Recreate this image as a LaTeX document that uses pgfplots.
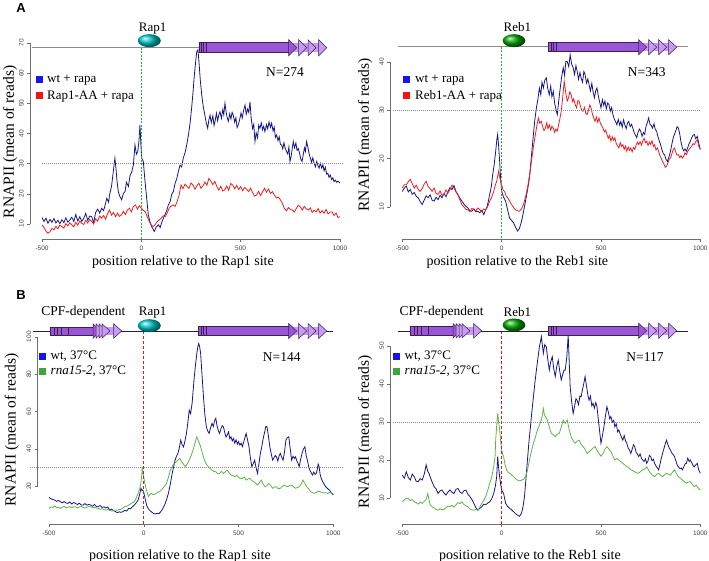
\documentclass[border=0pt]{standalone}
\usepackage{pgfplots}
\pgfplotsset{compat=1.18}
\usepackage{fontspec}
\setmainfont{Liberation Serif}
\newfontfamily\tickfont{Liberation Sans}
\definecolor{navyl}{RGB}{22,22,140}
\definecolor{redl}{RGB}{240,30,30}
\definecolor{greenl}{RGB}{95,180,75}
\definecolor{sqblue}{RGB}{20,20,240}
\definecolor{sqred}{RGB}{240,20,20}
\definecolor{sqgreen}{RGB}{60,165,60}
\definecolor{axgray}{RGB}{110,110,110}
\definecolor{gpurple}{RGB}{155,85,215}
\definecolor{glight}{RGB}{200,155,240}
\definecolor{gdark}{RGB}{60,30,80}
\definecolor{vgreen}{RGB}{40,175,60}
\definecolor{vred}{RGB}{205,35,35}
\definecolor{gline}{RGB}{140,140,140}
\definecolor{hdot}{RGB}{140,140,140}
\pgfplotsset{rstyle/.style={scale only axis, xmin=-560, xmax=1060,
  axis x line*=bottom, axis y line*=left, axis line style={draw=none,-},
  xtick={-500,0,500,1000}, tick align=outside, major tick length=3pt,
  tick style={axgray, line width=0.4pt},
  ticklabel style={font=\tickfont\fontsize{6.5}{7}\selectfont, text=black!75},
  yticklabel style={rotate=90, anchor=south},
  /pgf/number format/assume math mode=true, /pgf/number format/1000 sep={},
  clip=false, every axis plot/.append style={line width=0.8pt, mark=none}},
  axl/.style={color=axgray, line width=0.5pt, forget plot}}
% gene: start, bodyend, yc, half height, first tip, light tips, last tip
\newcommand{\gene}[7]{%
  \fill[glight] (#2,#3-#4+0.5) rectangle (#7-6,#3+#4-0.5);
  \filldraw[fill=gpurple, draw=gdark, line width=0.5pt] (#1,#3-#4) rectangle (#2,#3+#4);
  \filldraw[fill=gpurple, draw=gdark, line width=0.5pt] (#5-8,#3-#4-3) -- (#5,#3) -- (#5-8,#3+#4+3) -- cycle;
  \foreach \t in {#6} {\filldraw[fill=glight, draw=gdark, line width=0.5pt] (\t-8,#3-#4-3) -- (\t,#3) -- (\t-8,#3+#4+3) -- cycle;}
}
% vertical dashes as fills: x, y0, y1, colour, on, period, width
\newcommand{\vdashline}[7]{\pgfmathsetmacro{\ystepv}{#2+#6}\foreach \yy in {#2,\ystepv,...,#3} {\fill[#4] ({#1-#7/2},\yy) rectangle ({#1+#7/2},{min(\yy+#5,#3)});}}
% horizontal dots as fills: y, x0, x1
\newcommand{\hdotline}[3]{\pgfmathsetmacro{\xstepv}{#2+2}\foreach \xx in {#2,\xstepv,...,#3} {\fill[hdot] (\xx,#1-0.3) rectangle (\xx+0.9,#1+0.3);}}
\begin{document}
\begin{tikzpicture}
\useasboundingbox (0pt,0pt) rectangle (709pt,-561pt);
% ---------------- A left
\begin{axis}[rstyle, at={(30.1pt,-239pt)}, anchor=south west, width=321.8pt, height=199.1pt, ymin=5, ymax=71, ytick={10,20,...,70}]
\addplot[axl] coordinates {(-500,5)(1000,5)};
\addplot[axl] coordinates {(-560,10)(-560,70)};
\addplot[navyl] coordinates {(-500,12.1)(-490,10.8)(-480,11.9)(-470,10.2)(-460,11.5)(-450,10.5)(-440,11.8)(-430,10.3)(-420,11.2)(-410,10.1)(-400,11.4)(-390,10.4)(-380,12.0)(-370,10.6)(-360,11.3)(-350,12.2)(-340,10.8)(-330,13.1)(-320,11.0)(-310,12.4)(-300,10.9)(-290,11.8)(-280,13.5)(-270,11.2)(-260,12.6)(-250,12.4)(-240,10.3)(-230,13.8)(-220,14.9)(-210,13.6)(-200,15.2)(-190,14.4)(-180,16.8)(-174,18.5)(-165,17.2)(-160,19.6)(-150,22.5)(-140,28.0)(-133,31.8)(-128,28.5)(-122,24.0)(-116,20.7)(-108,19.1)(-99,18.0)(-90,20.2)(-82,20.7)(-75,23.8)(-65,22.4)(-57,26.0)(-48,27.3)(-40,29.6)(-32,36.2)(-25,33.1)(-18,34.0)(-12,37.5)(-7,42.8)(-2,36.0)(2,31.8)(10,30.7)(18,24.5)(27,18.5)(35,13.0)(43,10.8)(52,9.1)(58,8.4)(65,7.5)(75,9.0)(86,9.7)(95,8.8)(103,10.6)(111,11.9)(120,13.2)(128,14.5)(136,16.3)(145,17.4)(153,19.8)(161,20.7)(170,23.5)(178,24.9)(186,27.3)(195,29.5)(203,28.9)(211,31.8)(220,33.6)(228,36.1)(237,39.5)(245,43.2)(253,48.3)(260,53.5)(267,59.4)(273,63.5)(279,67.1)(285,67.7)(290,63.8)(297,57.5)(304,52.8)(312,48.7)(320,46.0)(327,43.4)(334,41.7)(340,44.5)(346,46.0)(352,43.6)(360,45.8)(366,42.6)(371,44.0)(378,46.7)(384,44.2)(390,46.1)(396,47.2)(403,45.0)(410,47.9)(415,46.2)(421,50.0)(427,47.0)(432,45.3)(438,44.0)(445,46.5)(451,44.8)(457,47.0)(463,46.0)(470,43.7)(476,45.2)(482,41.9)(488,42.8)(495,44.6)(502,46.8)(508,45.1)(515,47.6)(522,49.4)(528,46.3)(535,48.1)(541,46.9)(547,50.5)(553,45.0)(560,41.6)(566,43.0)(572,37.3)(578,40.2)(585,38.6)(591,42.7)(597,41.7)(604,43.5)(610,41.2)(616,42.4)(622,40.6)(630,42.9)(636,41.5)(643,43.8)(650,42.0)(656,43.4)(663,40.8)(669,42.1)(675,38.7)(681,39.5)(688,37.6)(694,38.9)(700,36.4)(706,36.2)(712,34.8)(718,36.9)(724,35.1)(731,34.0)(737,33.2)(743,35.5)(748,30.7)(754,32.3)(759,34.8)(765,37.3)(771,35.2)(778,36.8)(784,34.4)(790,35.0)(796,33.6)(803,31.4)(809,30.7)(815,32.9)(821,35.2)(826,34.0)(832,37.3)(838,35.6)(845,33.1)(851,31.8)(857,30.4)(863,31.9)(870,30.2)(876,28.9)(883,30.7)(889,29.3)(895,28.5)(901,30.1)(908,28.5)(914,29.6)(920,27.6)(926,28.8)(933,26.5)(939,26.8)(945,25.4)(951,26.2)(958,24.7)(964,25.3)(970,24.0)(977,24.5)(983,23.8)(990,24.2)(1000,23.5)};
\addplot[redl] coordinates {(-500,9.7)(-490,8.8)(-480,7.6)(-470,6.9)(-460,7.4)(-450,8.5)(-440,8.0)(-430,9.2)(-420,8.4)(-410,9.6)(-400,9.1)(-390,8.6)(-380,10.1)(-370,9.3)(-360,10.4)(-350,9.7)(-340,9.0)(-330,10.5)(-320,9.6)(-310,11.0)(-300,10.2)(-290,9.8)(-280,11.2)(-270,10.3)(-260,11.5)(-250,10.8)(-240,10.0)(-230,11.7)(-220,10.9)(-210,12.6)(-200,11.9)(-190,12.8)(-180,11.6)(-170,13.4)(-160,14.6)(-150,12.9)(-140,13.8)(-130,12.4)(-120,13.6)(-110,12.5)(-100,13.0)(-90,14.2)(-80,13.1)(-70,14.6)(-60,15.2)(-50,14.0)(-40,15.8)(-30,16.3)(-20,14.9)(-10,16.0)(0,15.2)(10,14.5)(20,14.0)(30,12.3)(40,10.8)(50,9.6)(60,9.1)(70,9.8)(80,10.8)(90,11.3)(100,11.9)(110,12.7)(120,12.4)(130,13.6)(140,15.2)(150,15.9)(160,16.3)(170,15.8)(180,17.4)(190,19.5)(200,22.9)(210,21.7)(220,23.2)(230,22.4)(240,21.8)(250,23.6)(260,22.9)(270,21.5)(280,22.7)(290,23.5)(300,21.8)(310,22.6)(320,23.9)(330,22.8)(340,25.1)(350,24.2)(360,23.0)(370,24.1)(380,22.4)(390,21.2)(400,22.5)(410,20.9)(420,21.3)(430,22.6)(440,21.1)(450,23.4)(460,22.9)(470,21.6)(480,22.8)(490,21.4)(500,22.4)(510,21.0)(520,22.1)(530,21.5)(540,20.7)(550,21.9)(560,20.4)(570,19.2)(580,19.6)(590,20.8)(600,19.4)(610,20.6)(620,21.8)(630,20.5)(640,21.6)(650,20.1)(660,20.7)(670,19.5)(680,18.6)(690,18.9)(700,18.0)(710,16.8)(720,15.2)(730,14.3)(740,15.4)(750,14.8)(760,14.6)(770,13.9)(780,15.1)(790,16.2)(800,15.7)(810,14.6)(820,15.8)(830,15.0)(840,14.6)(850,15.3)(860,13.8)(870,14.5)(880,14.0)(890,15.1)(900,13.6)(910,14.4)(920,13.5)(930,14.8)(940,13.3)(950,13.9)(960,14.0)(970,12.8)(980,13.6)(990,12.1)(1000,12.4)};
\end{axis}
% ---------------- A right
\begin{axis}[rstyle, at={(390.4pt,-239.3pt)}, anchor=south west, width=321.8pt, height=194.3pt, ymin=3.3, ymax=43.5, ytick={10,20,30,40}]
\addplot[axl] coordinates {(-500,3.3)(1000,3.3)};
\addplot[axl] coordinates {(-560,10)(-560,40)};
\addplot[navyl] coordinates {(-500,13.2)(-490,13.9)(-480,14.3)(-470,13.1)(-460,13.6)(-450,12.6)(-440,13.0)(-430,12.2)(-420,11.9)(-410,11.1)(-400,10.5)(-390,11.4)(-380,12.3)(-370,11.9)(-360,12.5)(-350,11.4)(-340,11.2)(-330,12.0)(-320,11.5)(-310,12.4)(-300,11.9)(-290,12.8)(-280,12.1)(-270,13.2)(-260,14.0)(-250,13.6)(-240,14.4)(-230,13.2)(-220,12.5)(-210,11.8)(-200,11.2)(-190,10.6)(-180,10.1)(-170,9.8)(-160,9.2)(-150,9.1)(-140,9.6)(-130,9.0)(-120,9.1)(-110,8.8)(-100,9.3)(-90,8.4)(-80,9.5)(-75,9.8)(-68,11.0)(-60,12.6)(-52,14.2)(-45,16.7)(-38,18.6)(-30,21.5)(-24,24.0)(-20,25.0)(-15,22.5)(-10,19.4)(-5,15.8)(0,13.2)(10,12.0)(20,11.2)(30,9.4)(40,7.7)(50,7.2)(60,6.7)(70,5.8)(80,5.0)(90,5.6)(100,7.0)(110,9.0)(120,11.2)(130,13.4)(140,16.0)(150,20.5)(160,25.0)(167,28.0)(175,30.5)(183,32.4)(190,34.6)(197,33.2)(203,35.8)(210,34.6)(217,36.2)(225,36.7)(232,34.5)(240,33.2)(247,35.0)(253,32.8)(260,33.9)(267,31.4)(273,30.2)(280,29.1)(287,31.8)(295,34.6)(302,36.9)(310,38.8)(317,37.2)(323,40.1)(330,40.1)(338,39.0)(345,41.5)(352,39.6)(360,38.8)(367,37.4)(374,39.2)(380,38.1)(387,36.4)(394,37.8)(400,36.7)(407,35.8)(414,38.0)(420,37.4)(427,35.6)(434,36.5)(440,35.3)(447,34.0)(454,35.6)(460,33.9)(467,32.6)(474,34.1)(480,34.6)(487,32.9)(494,31.6)(500,30.5)(507,32.2)(514,31.0)(520,31.9)(527,30.3)(534,31.5)(540,31.2)(547,29.8)(554,30.6)(560,29.1)(567,28.2)(574,27.6)(580,27.0)(587,28.1)(594,26.9)(600,27.7)(607,26.5)(614,28.0)(620,27.0)(627,26.2)(634,27.4)(640,27.7)(647,26.6)(654,27.1)(660,26.3)(667,25.4)(674,24.8)(680,24.3)(687,25.5)(694,26.1)(700,25.7)(707,24.6)(714,25.4)(720,25.0)(727,26.7)(734,27.5)(740,28.4)(747,27.1)(754,26.8)(760,26.3)(767,27.2)(774,26.0)(780,25.7)(787,24.5)(794,23.6)(800,22.9)(807,21.8)(814,21.0)(820,20.8)(827,19.9)(835,19.4)(842,20.3)(850,21.5)(857,23.0)(863,24.2)(870,25.0)(877,25.8)(883,26.6)(890,26.3)(897,25.0)(903,23.4)(910,22.2)(917,21.6)(923,22.0)(930,21.5)(937,22.3)(943,23.0)(950,23.6)(957,24.3)(963,24.8)(970,25.0)(977,24.1)(985,24.6)(992,23.2)(1000,21.9)};
\addplot[redl] coordinates {(-500,13.9)(-490,14.6)(-480,14.6)(-470,15.2)(-460,15.7)(-450,14.8)(-440,13.9)(-430,14.5)(-420,13.6)(-410,13.2)(-400,13.8)(-390,14.7)(-380,15.3)(-370,14.2)(-360,13.8)(-350,13.2)(-340,13.9)(-330,12.8)(-320,12.6)(-310,13.3)(-300,12.4)(-290,12.6)(-280,13.5)(-270,12.9)(-260,13.6)(-250,14.5)(-240,13.9)(-230,13.1)(-220,12.6)(-210,11.4)(-200,10.5)(-190,10.0)(-180,9.5)(-170,9.4)(-160,9.0)(-150,9.7)(-140,9.4)(-130,9.2)(-120,9.8)(-110,9.4)(-100,9.0)(-90,9.6)(-80,9.4)(-70,10.1)(-60,11.2)(-50,12.0)(-40,13.2)(-32,14.5)(-25,15.3)(-15,17.4)(-8,15.8)(0,14.6)(7,13.5)(15,13.2)(22,12.3)(30,11.9)(40,11.2)(50,10.5)(60,9.9)(70,9.4)(80,9.2)(90,9.1)(100,9.6)(110,10.5)(120,12.0)(130,13.9)(140,16.4)(150,19.4)(160,22.5)(170,25.0)(178,27.0)(185,28.4)(192,27.3)(200,27.7)(207,26.5)(213,25.8)(220,26.3)(227,27.4)(233,26.2)(240,27.0)(247,25.9)(253,26.7)(260,26.3)(267,25.4)(273,26.1)(280,25.7)(287,27.0)(293,28.2)(300,29.8)(307,32.5)(315,36.0)(322,33.8)(330,31.9)(337,32.6)(343,33.8)(350,33.2)(357,31.8)(363,32.4)(370,31.2)(377,30.5)(384,32.0)(390,31.9)(397,30.8)(404,29.9)(410,29.8)(417,30.6)(424,29.3)(430,29.1)(437,30.0)(444,31.1)(450,30.5)(457,29.2)(464,28.4)(470,27.7)(477,28.6)(484,27.5)(490,28.4)(497,27.3)(504,26.8)(510,26.3)(517,25.5)(524,25.9)(530,25.0)(537,24.2)(544,24.8)(550,23.6)(557,24.5)(564,23.8)(570,24.3)(577,23.1)(584,22.6)(590,22.2)(597,23.3)(604,22.5)(610,22.9)(617,21.9)(624,22.6)(630,21.5)(637,22.4)(644,21.7)(650,22.2)(657,21.4)(664,22.3)(670,21.9)(677,22.8)(684,23.4)(690,22.9)(697,23.5)(704,22.8)(710,23.6)(717,24.2)(724,23.3)(730,23.6)(737,22.7)(744,23.4)(750,22.9)(757,23.7)(764,22.5)(770,22.9)(777,21.8)(784,22.2)(790,21.5)(797,20.6)(804,20.0)(810,19.4)(817,18.9)(823,18.2)(830,18.4)(837,19.1)(843,19.8)(850,20.1)(857,21.0)(863,21.8)(870,22.2)(877,21.3)(883,20.7)(890,20.8)(897,20.2)(903,20.6)(910,20.1)(917,20.5)(923,21.2)(930,20.8)(937,21.5)(943,21.9)(950,22.2)(957,22.6)(963,23.1)(970,22.9)(977,23.5)(985,23.9)(992,22.6)(1000,21.9)};
\end{axis}
% ---------------- B left
\begin{axis}[rstyle, at={(37.6pt,-524.3pt)}, anchor=south west, width=307.1pt, height=189.4pt, ymin=-0.5, ymax=101, ytick={20,40,60,80,100}]
\addplot[axl] coordinates {(-500,-0.5)(1000,-0.5)};
\addplot[axl] coordinates {(-560,20)(-560,100)};
\addplot[navyl] coordinates {(-500,13.9)(-490,13.2)(-480,12.8)(-470,12.5)(-460,11.8)(-450,12.3)(-440,11.6)(-430,11.0)(-420,11.7)(-410,10.9)(-400,10.7)(-390,11.5)(-380,10.4)(-370,11.2)(-360,10.7)(-350,10.1)(-340,10.8)(-330,9.9)(-320,9.8)(-310,10.6)(-300,9.7)(-290,10.2)(-280,9.8)(-270,9.2)(-260,10.1)(-250,9.0)(-240,8.9)(-230,9.6)(-220,8.5)(-210,8.9)(-200,8.2)(-190,8.8)(-180,7.1)(-170,7.6)(-160,6.8)(-150,6.4)(-140,5.7)(-130,6.2)(-120,5.9)(-110,6.3)(-100,7.0)(-90,6.6)(-80,8.0)(-70,7.8)(-60,8.9)(-50,9.8)(-40,11.0)(-30,12.5)(-22,15.2)(-15,18.8)(-10,17.6)(-5,17.9)(0,16.5)(5,14.3)(10,11.9)(15,9.8)(22,8.2)(30,7.1)(40,6.2)(50,5.4)(60,5.0)(70,5.4)(80,5.2)(90,6.3)(100,7.8)(110,9.8)(120,12.6)(130,16.1)(140,21.0)(150,26.8)(158,30.5)(165,33.9)(172,35.8)(180,37.5)(187,40.2)(195,44.6)(202,42.3)(210,41.0)(217,44.0)(225,48.2)(232,53.5)(240,60.7)(247,58.8)(255,64.3)(260,70.5)(265,76.8)(272,84.0)(280,91.1)(286,95.0)(290,96.4)(295,94.5)(300,91.1)(307,80.2)(315,67.9)(322,58.5)(330,51.8)(337,49.6)(345,48.2)(352,51.0)(360,53.6)(367,51.9)(373,54.8)(380,56.3)(387,52.0)(394,49.5)(400,48.2)(407,50.6)(414,52.4)(420,51.8)(427,48.8)(434,46.2)(440,47.3)(447,49.0)(454,45.4)(460,46.4)(467,44.2)(474,45.5)(480,42.9)(487,44.8)(494,42.5)(500,43.8)(507,41.9)(514,43.0)(520,41.1)(527,43.5)(534,46.0)(540,48.2)(547,45.0)(555,41.1)(562,35.5)(570,30.4)(577,31.8)(585,33.9)(592,30.1)(600,26.8)(607,31.5)(615,37.5)(622,40.8)(630,45.5)(637,48.6)(644,52.0)(650,51.8)(657,47.2)(665,41.1)(672,37.4)(680,33.9)(687,35.2)(694,36.4)(700,35.7)(707,33.4)(714,36.2)(720,37.5)(727,35.6)(735,33.9)(742,38.0)(750,44.6)(757,45.9)(765,46.4)(772,40.5)(780,33.9)(787,36.0)(794,34.8)(800,35.7)(807,33.6)(814,32.2)(820,30.4)(827,34.1)(835,37.5)(842,39.8)(850,41.1)(857,36.2)(864,33.5)(870,30.4)(877,28.3)(884,27.0)(890,25.9)(897,27.5)(904,26.2)(910,26.8)(915,28.9)(920,31.8)(925,30.4)(930,26.5)(935,24.5)(940,23.2)(947,21.8)(954,20.6)(960,19.6)(967,18.9)(974,18.2)(980,17.9)(987,16.6)(994,16.0)(1000,15.2)};
\addplot[greenl] coordinates {(-500,8.0)(-490,8.8)(-480,8.5)(-470,9.3)(-460,8.4)(-450,8.7)(-440,8.0)(-430,8.6)(-420,9.2)(-410,8.3)(-400,8.6)(-390,9.0)(-380,8.4)(-370,8.9)(-360,8.9)(-350,8.3)(-340,8.8)(-330,9.1)(-320,8.6)(-310,8.2)(-300,8.7)(-290,9.0)(-280,8.9)(-270,8.4)(-260,8.6)(-250,8.2)(-240,8.0)(-230,7.5)(-220,7.9)(-210,7.3)(-200,7.1)(-190,7.5)(-180,7.0)(-170,6.6)(-160,6.8)(-150,7.2)(-140,7.0)(-130,7.4)(-120,7.5)(-110,8.3)(-100,8.9)(-90,9.2)(-80,9.8)(-70,10.4)(-60,11.0)(-50,11.6)(-40,13.5)(-30,16.1)(-22,18.5)(-15,21.4)(-10,26.5)(-8,30.4)(-4,27.0)(0,25.0)(5,21.8)(10,19.6)(17,16.8)(25,14.3)(32,15.5)(40,16.1)(50,15.4)(60,15.7)(70,16.4)(80,17.0)(90,17.5)(100,18.8)(110,19.9)(120,21.4)(130,24.6)(140,28.6)(150,30.5)(160,32.1)(170,32.8)(180,33.9)(190,34.8)(200,33.0)(210,31.6)(220,30.4)(230,32.0)(240,33.9)(250,36.3)(260,39.3)(270,43.0)(280,46.4)(290,43.8)(300,41.1)(310,37.2)(320,33.9)(330,31.8)(340,30.4)(350,29.4)(360,28.6)(370,27.8)(380,27.7)(390,26.5)(400,26.8)(410,27.9)(420,26.8)(430,27.6)(440,28.6)(450,27.2)(460,25.9)(470,25.6)(480,25.0)(490,25.8)(500,24.6)(510,23.9)(520,24.1)(530,24.8)(540,23.2)(550,23.8)(560,24.1)(570,23.0)(580,22.3)(590,21.6)(600,20.5)(610,21.9)(620,23.2)(630,21.0)(640,19.6)(650,20.3)(660,21.4)(670,20.2)(680,18.8)(690,19.5)(700,19.6)(710,18.5)(720,18.8)(730,19.7)(740,20.5)(750,20.0)(760,19.6)(770,20.4)(780,20.5)(790,19.6)(800,18.8)(810,19.2)(820,19.6)(830,21.0)(840,23.2)(850,21.3)(860,19.6)(870,18.4)(880,17.0)(890,16.5)(900,16.1)(910,16.6)(920,17.2)(930,17.0)(940,16.6)(950,16.3)(960,16.4)(970,16.0)(980,16.6)(990,16.2)(1000,16.1)};
\end{axis}
% ---------------- B right
\begin{axis}[rstyle, at={(390.4pt,-524.3pt)}, anchor=south west, width=321.8pt, height=197.6pt, ymin=3.1, ymax=55, ytick={10,20,...,50}]
\addplot[axl] coordinates {(-500,3.1)(1000,3.1)};
\addplot[axl] coordinates {(-560,10)(-560,50)};
\addplot[navyl] coordinates {(-500,16.0)(-490,15.2)(-480,16.9)(-470,15.4)(-460,14.7)(-450,16.3)(-440,15.6)(-430,14.4)(-420,14.3)(-410,15.1)(-400,14.7)(-390,16.2)(-380,18.7)(-372,17.0)(-365,16.4)(-360,15.6)(-350,14.2)(-340,13.0)(-330,12.4)(-320,11.2)(-310,11.9)(-300,12.1)(-290,11.3)(-280,10.8)(-270,11.6)(-260,12.1)(-250,11.5)(-240,11.2)(-230,12.3)(-220,12.5)(-210,11.6)(-200,11.2)(-190,11.9)(-180,12.1)(-170,11.0)(-160,10.4)(-150,9.6)(-140,8.6)(-130,7.5)(-120,6.8)(-110,7.3)(-100,7.7)(-90,8.4)(-80,8.2)(-70,8.7)(-60,9.0)(-50,9.8)(-40,11.2)(-32,13.0)(-25,15.6)(-20,20.9)(-15,17.8)(-10,15.6)(-5,13.6)(0,12.1)(10,11.2)(20,8.6)(30,7.8)(40,7.3)(50,6.9)(60,6.4)(70,5.9)(80,5.5)(90,5.2)(100,6.0)(108,7.8)(115,10.4)(122,14.8)(130,20.0)(137,24.5)(145,28.7)(152,32.6)(160,36.6)(167,40.1)(175,43.6)(182,46.5)(190,49.7)(195,51.0)(200,52.4)(205,50.1)(210,48.0)(217,50.3)(225,49.7)(232,46.5)(240,43.6)(247,45.8)(255,47.1)(262,44.0)(270,41.9)(277,44.5)(285,46.2)(292,43.5)(300,41.0)(307,42.4)(314,43.6)(320,43.6)(328,47.0)(335,52.8)(340,46.0)(345,39.2)(352,35.5)(360,32.2)(367,34.0)(374,36.1)(380,35.7)(387,34.5)(394,36.8)(400,36.6)(407,38.5)(414,40.2)(420,41.9)(427,39.5)(434,37.0)(440,35.7)(447,36.8)(454,34.2)(460,34.9)(467,33.6)(474,35.1)(480,34.0)(487,30.5)(494,27.2)(500,24.4)(507,26.3)(515,28.7)(522,31.4)(530,34.0)(537,32.6)(544,30.8)(550,31.4)(557,29.9)(564,30.4)(570,28.7)(577,29.5)(584,27.4)(590,27.9)(597,26.8)(604,25.9)(610,25.2)(617,26.4)(624,24.9)(630,24.4)(637,23.1)(644,22.6)(650,21.7)(657,22.8)(664,24.0)(670,23.5)(677,22.0)(684,21.5)(690,20.9)(697,21.6)(704,20.4)(710,20.0)(717,19.6)(724,20.3)(730,19.1)(737,19.8)(744,21.2)(750,20.9)(757,19.8)(764,20.2)(770,19.1)(777,18.4)(784,17.9)(790,17.4)(797,18.8)(804,20.5)(810,21.7)(817,23.0)(824,24.3)(830,25.2)(837,24.0)(844,23.1)(850,22.6)(857,21.8)(864,21.4)(870,20.9)(877,19.8)(884,18.6)(890,18.2)(897,17.7)(904,17.9)(910,17.4)(917,18.2)(924,19.0)(930,19.1)(937,20.5)(944,19.6)(950,20.0)(957,19.3)(964,18.5)(970,18.2)(977,18.7)(985,19.1)(992,17.4)(1000,16.5)};
\addplot[greenl] coordinates {(-500,9.0)(-490,9.5)(-480,9.9)(-470,9.9)(-460,9.3)(-450,9.6)(-440,9.0)(-430,8.8)(-420,8.4)(-410,9.0)(-400,8.6)(-390,9.1)(-380,9.6)(-372,11.2)(-365,9.4)(-360,8.3)(-350,7.7)(-340,7.4)(-330,7.0)(-320,6.8)(-310,7.2)(-300,6.9)(-290,7.0)(-280,7.5)(-270,7.9)(-260,7.7)(-250,8.1)(-240,7.6)(-230,8.2)(-220,8.8)(-210,8.5)(-200,9.0)(-190,8.3)(-180,8.0)(-170,7.7)(-160,7.1)(-150,6.9)(-140,6.8)(-130,7.0)(-120,6.8)(-110,7.6)(-100,8.6)(-90,9.4)(-80,10.4)(-70,12.0)(-60,13.9)(-50,15.5)(-40,18.2)(-33,21.0)(-30,25.2)(-25,29.0)(-20,32.2)(-15,30.0)(-10,27.9)(-5,24.9)(0,22.6)(5,21.5)(10,20.9)(17,18.7)(25,17.4)(32,16.8)(40,16.5)(50,16.1)(60,15.6)(70,15.1)(80,14.7)(90,14.5)(100,14.7)(110,14.9)(120,15.6)(130,17.3)(140,20.0)(150,22.3)(160,24.4)(170,26.0)(180,27.9)(190,29.1)(200,30.5)(205,31.8)(210,33.5)(215,32.0)(222,31.2)(230,30.5)(240,28.6)(250,27.0)(260,26.6)(270,26.1)(280,26.8)(290,27.0)(300,28.6)(310,30.5)(320,29.6)(330,30.5)(340,28.0)(350,26.1)(360,25.0)(370,24.4)(380,24.9)(390,25.2)(400,24.1)(410,23.5)(420,22.8)(430,21.7)(440,22.1)(450,22.6)(460,23.1)(470,23.5)(480,22.6)(490,21.7)(500,21.0)(510,21.7)(520,22.8)(530,23.5)(540,22.9)(550,22.2)(560,21.0)(570,20.0)(580,20.4)(590,20.0)(600,19.6)(610,19.1)(620,18.7)(630,18.2)(640,18.0)(650,17.4)(660,17.2)(670,16.9)(680,16.6)(690,16.5)(700,17.0)(710,17.4)(720,17.6)(730,18.2)(740,17.3)(750,16.5)(760,16.0)(770,15.6)(780,16.2)(790,16.5)(800,16.0)(810,15.6)(820,16.1)(830,16.5)(840,16.2)(850,16.0)(860,16.8)(870,17.4)(880,16.4)(890,15.6)(900,15.2)(910,14.7)(920,14.3)(930,13.9)(940,14.2)(950,14.3)(960,13.6)(970,13.0)(980,13.4)(990,12.6)(1000,12.1)};
\end{axis}
% ---------------- decorations (px coordinates, y down)
\begin{scope}[x=1pt,y=-1pt]
% reference lines
\hdotline{163.7}{42}{342}
\hdotline{110.7}{393}{700}
\hdotline{467.3}{30}{342}
\hdotline{421.8}{393}{700}
\vdashline{141.3}{48}{239}{vgreen}{2}{3.5}{0.8}
\vdashline{501.6}{47}{239}{vgreen}{2}{3.5}{0.8}
\vdashline{143.8}{331}{524}{vred}{3}{5}{0.9}
\vdashline{501.6}{331}{524}{vred}{3}{5}{0.9}
\node[font=\tickfont\bfseries\fontsize{13}{13}\selectfont] at (21,8.5) {A};
\node[font=\tickfont\bfseries\fontsize{13}{13}\selectfont] at (21,295) {B};
% A left
\fill[gline] (32,47.05) rectangle (199,48.35);
\gene{199}{290}{47.7}{5}{296.7}{306.7,316,326.7}{326.7}
\foreach \v in {201.5,203.5,206.5} \draw[gdark, line width=0.4pt] (\v,42.7) -- (\v,52.7);
\shade[ball color=cyan!55!teal] (149.3,40.7) ellipse (11.5 and 6.5);
\node[font=\fontsize{13}{14}\selectfont] at (152.7,28.3) {Rap1};
\node[font=\fontsize{13.5}{14}\selectfont] at (285,71.7) {N=274};
\fill[sqblue] (35.5,76.5) rectangle (42.5,83.5);
\fill[sqred] (35.5,92.2) rectangle (42.5,99.2);
\node[font=\fontsize{13}{14}\selectfont, anchor=west, inner sep=0pt] at (47,80.5) {wt + rapa};
\node[font=\fontsize{13}{14}\selectfont, anchor=west, inner sep=0pt] at (47,96.2) {Rap1-AA + rapa};
\node[font=\fontsize{14}{15}\selectfont] at (183,261.7) {position relative to the Rap1 site};
\node[font=\fontsize{15.5}{16}\selectfont, rotate=90] at (10,141.7) {RNAPII (mean of reads)};
% A right
\fill[gline] (397.7,46.05) rectangle (688,47.35);
\gene{548.3}{640}{47.2}{4.5}{646.7}{656.7,666.7,676.7}{676.7}
\foreach \v in {550.8,552.8,555.8} \draw[gdark, line width=0.4pt] (\v,42.7) -- (\v,51.7);
\shade[ball color=green!65!black] (514,40.7) ellipse (11.3 and 6.5);
\node[font=\fontsize{13}{14}\selectfont] at (517.3,26.7) {Reb1};
\node[font=\fontsize{13.5}{14}\selectfont] at (646.7,71.7) {N=343};
\fill[sqblue] (402.5,76.5) rectangle (409.5,83.5);
\fill[sqred] (402.5,92.2) rectangle (409.5,99.2);
\node[font=\fontsize{13}{14}\selectfont, anchor=west, inner sep=0pt] at (415,80.5) {wt + rapa};
\node[font=\fontsize{13}{14}\selectfont, anchor=west, inner sep=0pt] at (415,96.2) {Reb1-AA + rapa};
\node[font=\fontsize{14}{15}\selectfont] at (517.3,261.7) {position relative to the Reb1 site};
\node[font=\fontsize{15.5}{16}\selectfont, rotate=90] at (365,135) {RNAPII (mean of reads)};
% B left
\draw[black!85, line width=0.7pt] (33,331.2) -- (333,331.2);
\gene{50}{97}{331}{4.2}{101}{104,107,110,121.7}{121.7}
\foreach \v in {54,57.3,60.7,68.3} \draw[gdark, line width=0.4pt] (\v,326.8) -- (\v,335.2);
\gene{198.3}{290}{331}{4.5}{296.7}{306.7,316,326.7}{326.7}
\foreach \v in {200.8,202.8,205.8} \draw[gdark, line width=0.4pt] (\v,326.5) -- (\v,335.5);
\shade[ball color=cyan!55!teal] (149.3,325.7) ellipse (11.5 and 6.5);
\node[font=\fontsize{13.5}{14}\selectfont] at (83.3,312.3) {CPF-dependent};
\node[font=\fontsize{13}{14}\selectfont] at (152.7,312.3) {Rap1};
\node[font=\fontsize{13.5}{14}\selectfont] at (281.7,357.3) {N=144};
\fill[sqblue] (38.8,352.5) rectangle (45.8,359.5);
\fill[sqgreen] (38.8,367.5) rectangle (45.8,374.5);
\node[font=\fontsize{13}{14}\selectfont, anchor=west, inner sep=0pt] at (50.5,356.5) {wt, 37°C};
\node[font=\fontsize{13}{14}\selectfont, anchor=west, inner sep=0pt] at (50.5,371.5) {\textit{rna15-2}, 37°C};
\node[font=\fontsize{14}{15}\selectfont] at (180,555.7) {position relative to the Rap1 site};
\node[font=\fontsize{15.5}{16}\selectfont, rotate=90] at (11.7,430) {RNAPII (mean of reads)};
% B right
\draw[black!85, line width=0.7pt] (397.7,331) -- (688.3,331);
\gene{410}{457}{330.8}{4.2}{461}{464,467,470,481.7}{481.7}
\foreach \v in {414,417.3,420.7,428.3} \draw[gdark, line width=0.4pt] (\v,326.6) -- (\v,335);
\gene{548.3}{640}{330.8}{4.5}{646.7}{656.7,666.7,676.7}{676.7}
\foreach \v in {550.8,552.8,555.8} \draw[gdark, line width=0.4pt] (\v,326.3) -- (\v,335.3);
\shade[ball color=green!65!black] (514,325) ellipse (11.3 and 6.5);
\node[font=\fontsize{13.5}{14}\selectfont] at (441.7,312.3) {CPF-dependent};
\node[font=\fontsize{13}{14}\selectfont] at (517.3,312.3) {Reb1};
\node[font=\fontsize{13.5}{14}\selectfont] at (645,357.3) {N=117};
\fill[sqblue] (393.2,352.5) rectangle (400.2,359.5);
\fill[sqgreen] (393.2,367.5) rectangle (400.2,374.5);
\node[font=\fontsize{13}{14}\selectfont, anchor=west, inner sep=0pt] at (404.5,356.5) {wt, 37°C};
\node[font=\fontsize{13}{14}\selectfont, anchor=west, inner sep=0pt] at (404.5,371.5) {\textit{rna15-2}, 37°C};
\node[font=\fontsize{14}{15}\selectfont] at (530,555.7) {position relative to the Reb1 site};
\node[font=\fontsize{15.5}{16}\selectfont, rotate=90] at (365,431.7) {RNAPII (mean of reads)};
\end{scope}
\end{tikzpicture}
\end{document}
